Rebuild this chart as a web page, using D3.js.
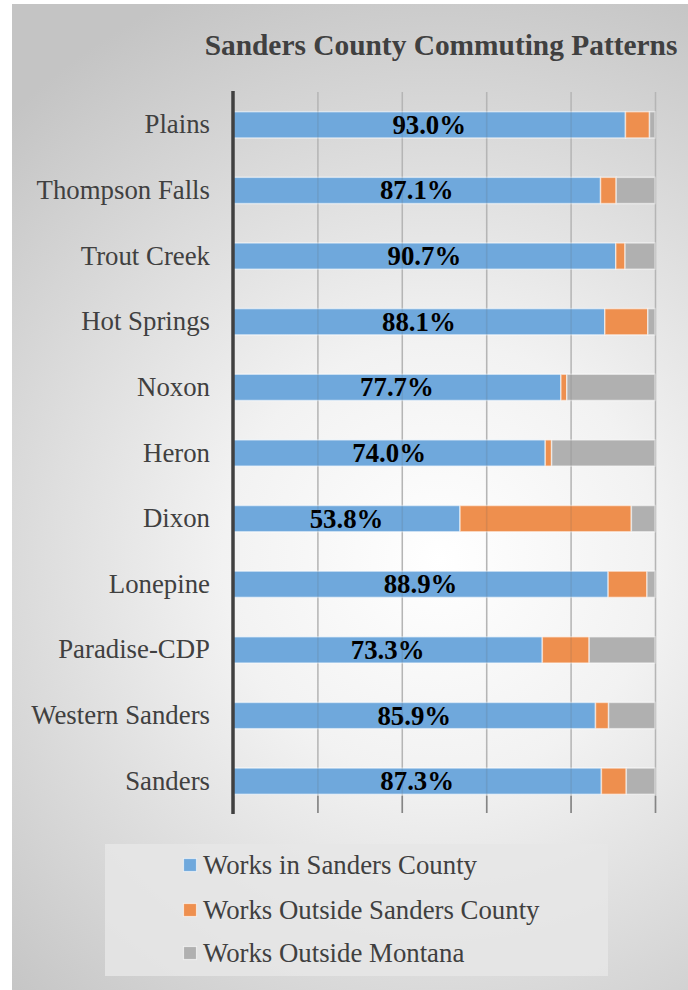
<!DOCTYPE html>
<html><head><meta charset="utf-8">
<script src="https://cdn.jsdelivr.net/npm/d3@7"></script>
<style>html,body{margin:0;padding:0;background:#fff;}svg{display:block;}</style>
</head><body>
<script>
const categories = ["Plains","Thompson Falls","Trout Creek","Hot Springs","Noxon","Heron","Dixon","Lonepine","Paradise-CDP","Western Sanders","Sanders"];
const worksInCounty = [93.0, 87.1, 90.7, 88.1, 77.7, 74.0, 53.8, 88.9, 73.3, 85.9, 87.3];
const worksOutsideCounty = [5.7, 3.7, 2.2, 10.2, 1.4, 1.5, 40.6, 9.2, 11.1, 3.1, 5.9];
const worksOutsideMontana = [1.3, 9.2, 7.1, 1.7, 20.9, 24.5, 5.6, 1.9, 15.6, 11.0, 6.8];
const seriesNames = ["Works in Sanders County","Works Outside Sanders County","Works Outside Montana"];
const seriesColors = ["#6fa8dc","#ee8f4e","#b0b0b0"];
const xTicks = [0,20,40,60,80,100];
const title = "Sanders County Commuting Patterns";

const W = 688, H = 990;
const svg = d3.select("body").append("svg").attr("width", W).attr("height", H);
const defs = svg.append("defs");
const rg = defs.append("radialGradient").attr("id","bg").attr("gradientUnits","userSpaceOnUse")
  .attr("cx",440).attr("cy",560).attr("r",620);
rg.append("stop").attr("offset","0").attr("stop-color","#ffffff");
rg.append("stop").attr("offset","0.35").attr("stop-color","#f2f2f2");
rg.append("stop").attr("offset","1").attr("stop-color","#c4c4c4");
svg.append("rect").attr("x",12).attr("y",4).attr("width",W-12).attr("height",H-4).attr("fill","url(#bg)");

const serif = "'Liberation Serif','Times New Roman',serif";
const fs = 26.8;
svg.append("text").attr("x",441).attr("y",55).attr("text-anchor","middle")
  .attr("font-family",serif).attr("font-weight","bold").attr("font-size",29.4)
  .attr("fill","#404040").text(title);

const x = d3.scaleLinear().domain([0,100]).range([233,655]);
const y = d3.scaleBand().domain(categories).range([92,814]).paddingInner(0.6).paddingOuter(0.3);

// gridlines
const grid = svg.append("g").attr("transform","translate(0,92)")
  .call(d3.axisBottom(x).tickValues(xTicks.slice(1)).tickSize(721).tickFormat(""));
grid.select(".domain").remove();
grid.selectAll("line").attr("stroke","#c6c6c6").attr("stroke-width",1.5);

const rows = categories.map((c,i)=>({c, v:[worksInCounty[i],worksOutsideCounty[i],worksOutsideMontana[i]]}));
const g = svg.append("g");
rows.forEach(r=>{
  let acc = 0;
  r.v.forEach((v,k)=>{
    g.append("rect").attr("x",x(acc)).attr("y",y(r.c)).attr("width",x(acc+v)-x(acc)).attr("height",y.bandwidth())
      .attr("fill",seriesColors[k]).attr("stroke","rgba(255,255,255,0.55)").attr("stroke-width",1.5);
    acc += v;
  });
});
// gridlines over bars (faint)
const grid2 = svg.append("g").attr("transform","translate(0,92)")
  .call(d3.axisBottom(x).tickValues(xTicks.slice(1)).tickSize(721).tickFormat(""));
grid2.select(".domain").remove();
grid2.selectAll("line").attr("stroke","#555").attr("stroke-opacity",0.15).attr("stroke-width",1.5);

// tick marks at bottom
const ticks = svg.append("g").attr("transform","translate(0,796)")
  .call(d3.axisBottom(x).tickValues(xTicks).tickSize(17).tickFormat(""));
ticks.select(".domain").remove();
ticks.selectAll("line").attr("stroke","#858585").attr("stroke-width",1.5);

// data labels
rows.forEach(r=>{
  g.append("text").attr("x",(x(0)+x(r.v[0]))/2).attr("y",y(r.c)+y.bandwidth()/2+9)
    .attr("text-anchor","middle").attr("font-family",serif).attr("font-weight","bold")
    .attr("font-size",fs).attr("fill","#000").text(r.v[0].toFixed(1)+"%");
});

// y axis
const ya = svg.append("g").attr("transform","translate(233,0)")
  .call(d3.axisLeft(y).tickSize(0).tickPadding(23));
ya.select(".domain").remove();
ya.selectAll("text").attr("font-family",serif).attr("font-size",fs).attr("fill","#404040");
svg.append("line").attr("x1",233).attr("x2",233).attr("y1",91).attr("y2",814)
  .attr("stroke","#404040").attr("stroke-width",3.5);

// legend
svg.append("rect").attr("x",105).attr("y",844).attr("width",503).attr("height",132).attr("fill","#e6e6e6").attr("fill-opacity",0.85);
const ly = [865,910,953];
seriesNames.forEach((n,k)=>{
  svg.append("rect").attr("x",183.5).attr("y",ly[k]-6.5).attr("width",13).attr("height",13)
    .attr("fill",seriesColors[k]).attr("stroke","rgba(255,255,255,0.6)").attr("stroke-width",1.2);
  svg.append("text").attr("x",203).attr("y",ly[k]+9).attr("font-family",serif).attr("font-size",fs)
    .attr("fill","#404040").text(n);
});
</script>
</body></html>
